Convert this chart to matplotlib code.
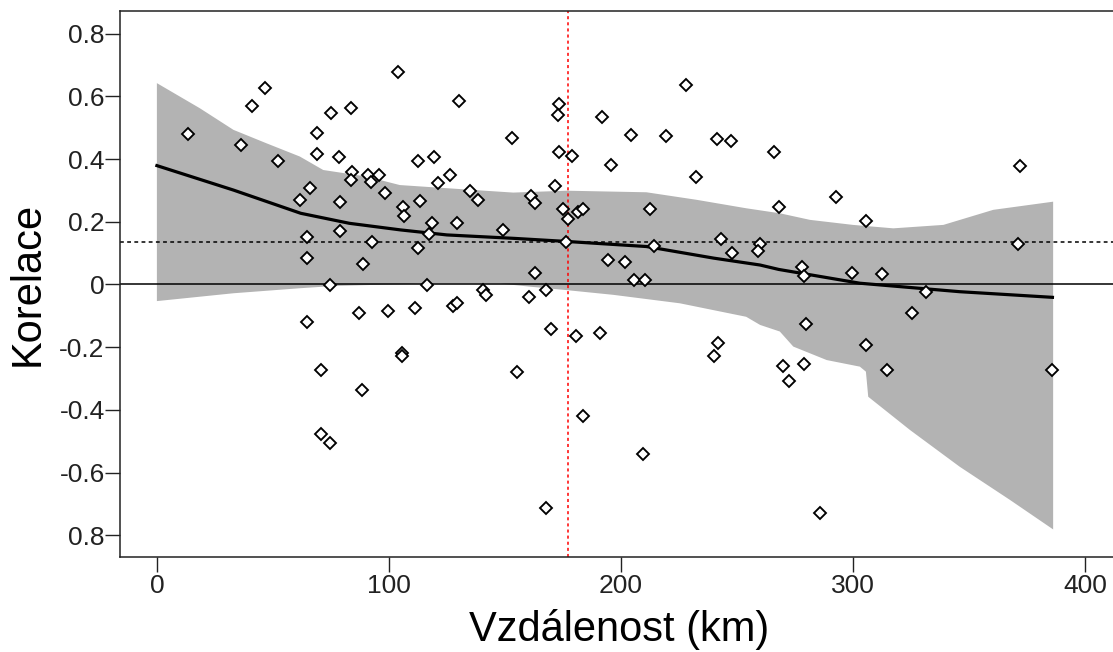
import numpy as np
import matplotlib
matplotlib.use("Agg")
import matplotlib.pyplot as plt

plt.rcParams['font.family'] = ['Liberation Sans', 'DejaVu Sans']

# distance (km) and correlation of the scatter points
dist = [13.5, 36.2, 41.1, 46.8, 52.4, 61.5, 65.9, 64.7, 64.7, 69.1,
        69.1, 75.0, 78.3, 79.0, 79.0, 83.6, 84.2, 83.5, 91.1, 95.7,
        92.1, 98.3, 92.7, 88.9, 74.4, 87.2, 99.4, 64.7, 103.8, 70.7,
        88.2, 70.7, 74.6, 105.5, 105.5, 130.0, 153.0, 173.4, 173.0, 173.4,
        178.9, 171.4, 191.8, 204.2, 219.3, 227.9, 195.7, 232.3, 241.5, 247.5,
        265.8, 268.2, 112.6, 119.5, 126.3, 121.0, 105.9, 106.5, 113.2, 134.8,
        138.5, 118.7, 117.1, 129.3, 112.6, 149.3, 161.3, 162.9, 175.1, 177.4,
        181.5, 183.6, 176.2, 212.6, 214.1, 194.3, 201.9, 205.6, 210.5, 243.0,
        247.7, 259.8, 259.1, 116.4, 162.9, 140.4, 141.8, 167.5, 160.6, 111.2,
        127.7, 129.4, 169.8, 191.2, 180.5, 155.3, 183.6, 209.6, 167.5, 241.8,
        240.0, 279.7, 325.6, 305.6, 269.7, 279.0, 272.3, 314.8, 385.8, 285.8,
        292.8, 305.6, 372.1, 371.3, 278.2, 279.0, 299.6, 312.6, 331.6]
corr = [0.479, 0.444, 0.569, 0.625, 0.393, 0.270, 0.309, 0.152, 0.084, 0.483,
        0.416, 0.546, 0.406, 0.263, 0.170, 0.563, 0.359, 0.332, 0.350, 0.350,
        0.326, 0.293, 0.135, 0.066, -0.002, -0.091, -0.086, -0.119, 0.676, -0.273,
        -0.335, -0.476, -0.505, -0.219, -0.228, 0.586, 0.468, 0.575, 0.540, 0.422,
        0.411, 0.315, 0.535, 0.478, 0.474, 0.636, 0.382, 0.343, 0.463, 0.456,
        0.422, 0.247, 0.394, 0.406, 0.350, 0.322, 0.247, 0.218, 0.265, 0.298,
        0.270, 0.197, 0.162, 0.197, 0.117, 0.175, 0.282, 0.259, 0.241, 0.208,
        0.230, 0.241, 0.135, 0.241, 0.123, 0.079, 0.073, 0.015, 0.015, 0.146,
        0.101, 0.130, 0.106, -0.002, 0.038, -0.018, -0.033, -0.018, -0.041, -0.074,
        -0.069, -0.058, -0.143, -0.154, -0.165, -0.278, -0.419, -0.539, -0.714, -0.188,
        -0.227, -0.126, -0.092, -0.193, -0.261, -0.255, -0.307, -0.273, -0.273, -0.730,
        0.280, 0.203, 0.377, 0.128, 0.057, 0.027, 0.038, 0.033, -0.025]

# smoothed fit
fit_x = [0, 33, 62, 83, 105, 125, 154, 177, 211, 240, 260, 268, 303, 346, 386]
fit_y = [0.379, 0.301, 0.227, 0.195, 0.174, 0.158, 0.147, 0.137, 0.121, 0.084,
         0.062, 0.048, 0.004, -0.023, -0.041]

# confidence band
upper_x = [0, 18.5, 33, 47.3, 61.6, 71.7, 90.4, 104.7, 124.9, 153.6, 176.6, 211,
           232.6, 254, 268.5, 281.5, 300, 317.4, 339, 360.5, 386.3]
upper_y = [0.642, 0.562, 0.493, 0.450, 0.408, 0.365, 0.344, 0.317, 0.307, 0.293,
           0.299, 0.294, 0.270, 0.243, 0.227, 0.206, 0.190, 0.179, 0.190, 0.238, 0.264]
lower_x = [0, 33, 61.6, 76, 90, 116, 148, 160.8, 176.6, 196.7, 225.4, 254, 260,
           268.5, 274.3, 288.7, 303, 305.6, 306.6, 324.6, 346, 367.7, 386.3]
lower_y = [-0.053, -0.028, -0.012, -0.005, -0.002, 0.003, 0.003, -0.007, -0.018,
           -0.033, -0.060, -0.103, -0.129, -0.150, -0.198, -0.241, -0.262, -0.278,
           -0.358, -0.464, -0.581, -0.687, -0.781]

mean_corr = 0.136
cut_dist = 177.3

yticks = [0.8, 0.6, 0.4, 0.2, 0, -0.2, -0.4, -0.6, -0.8]
ytick_labels = ['0.8', '0.6', '0.4', '0.2', '0', '-0.2', '-0.4', '-0.6', '0.8']
xticks = [0, 100, 200, 300, 400]

fig = plt.figure(figsize=(11.13, 6.52), dpi=100)
ax = fig.add_axes([120 / 1113, (652 - 556.7) / 652, 1 - 120 / 1113, (556.7 - 11) / 652])

ax.fill(np.r_[upper_x, lower_x[::-1]], np.r_[upper_y, lower_y[::-1]],
        color='#b3b3b3', lw=0, zorder=1)
ax.axhline(0, color='black', lw=1.1, zorder=2)
ax.axhline(mean_corr, color='black', lw=1.1, ls=(0, (2.5, 2.2)), zorder=2)
ax.axvline(cut_dist, color='#ff0000', lw=1.1, ls=(0, (2, 2)), zorder=2)
ax.plot(fit_x, fit_y, color='black', lw=2.3, zorder=3)
ax.plot(dist, corr, ls='none', marker='D', ms=6.4, mfc='white', mec='black',
        mew=1.35, zorder=4)

ax.set_xlim(-15.9, 412.1)
ax.set_ylim(-0.868, 0.872)
ax.set_xticks(xticks)
ax.set_xticklabels([str(v) for v in xticks])
ax.set_yticks(yticks)
ax.set_yticklabels(ytick_labels)
ax.tick_params(axis='both', direction='out', length=11, width=1.0,
               labelsize=19, colors='#222222')
ax.tick_params(axis='x', pad=1.5)
ax.tick_params(axis='y', pad=0)
for side in ['left', 'bottom', 'top']:
    ax.spines[side].set_linewidth(1.1)
    ax.spines[side].set_color('#222222')
ax.spines['right'].set_visible(False)

fig.text(28 / 1113, 1 - 284 / 652, 'Korelace', rotation=90, ha='center',
         va='center', fontsize=30)
fig.text(619 / 1113, 1 - 630 / 652, 'Vzdálenost (km)', ha='center',
         va='center', fontsize=30)

fig.savefig('out.png', dpi=100)
